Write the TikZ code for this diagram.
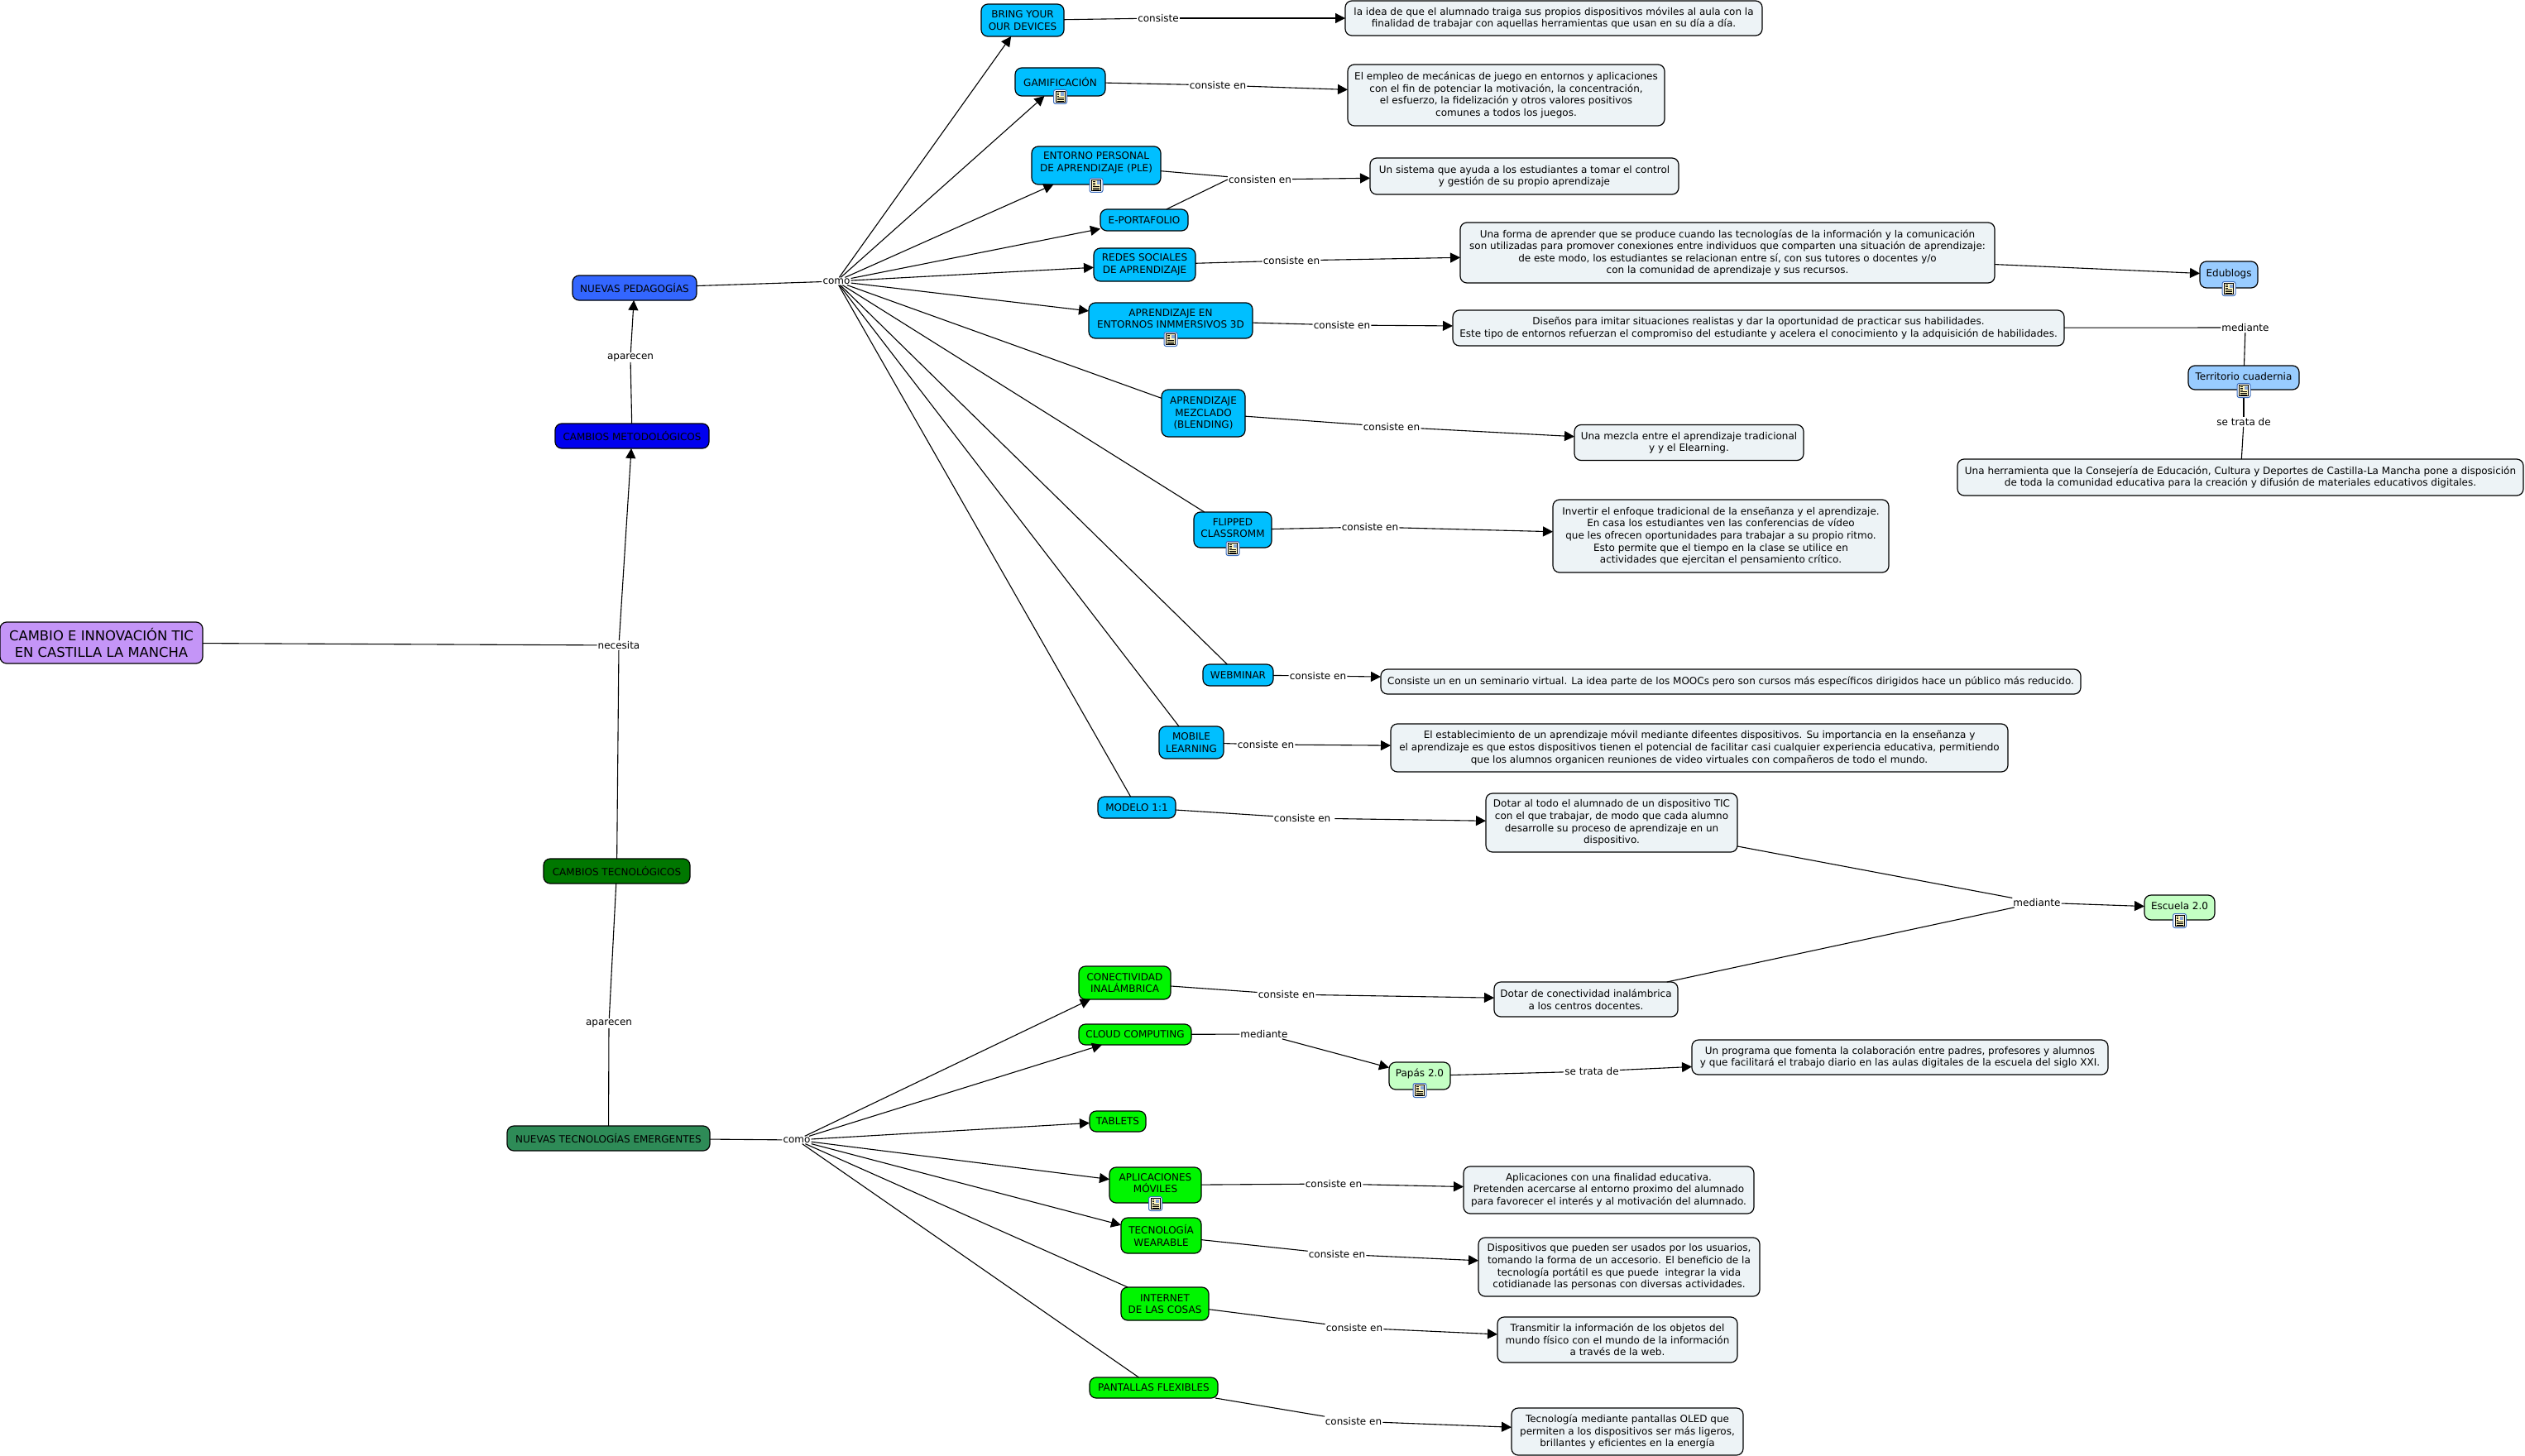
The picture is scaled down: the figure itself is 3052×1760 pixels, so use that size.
\documentclass[tikz,border=0pt]{standalone}
\usepackage{fontspec}
\setmainfont{DejaVu Sans}
\usetikzlibrary{arrows.meta}
\definecolor{cblue}{RGB}{0,191,255}
\definecolor{cped}{RGB}{51,102,255}
\definecolor{cmet}{RGB}{0,0,238}
\definecolor{ctec}{RGB}{0,119,0}
\definecolor{cnte}{RGB}{46,139,87}
\definecolor{clime}{RGB}{0,245,0}
\definecolor{cmain}{RGB}{196,149,247}
\definecolor{ctxt}{RGB}{237,243,246}
\definecolor{csky}{RGB}{153,204,255}
\definecolor{cmint}{RGB}{196,255,196}
\definecolor{iconblue}{RGB}{60,110,190}
\definecolor{iconpage}{RGB}{252,244,190}
\newcommand{\lowstrut}[1]{\rule[-#1]{0pt}{1pt}}
\tikzset{
  every node/.style={font=\fontsize{6}{7.3}\selectfont,align=center,text=black},
  box/.style={draw=black,line width=.6pt,rounded corners=4pt,inner sep=0pt,outer sep=0pt},
  sz/.style 2 args={minimum width=#1*0.5pt,minimum height=#2*0.5pt},
  bluebox/.style={box,fill=cblue},
  limebox/.style={box,fill=clime},
  skybox/.style={box,fill=csky},
  mintbox/.style={box,fill=cmint},
  textbox/.style={box,fill=ctxt},
  lbl/.style={fill=white,inner sep=.6pt,outer sep=0pt},
  conn/.style={line width=.55pt,draw=black},
  arr/.style={conn,-{Triangle[length=6pt,width=6pt]}},
  docicon/.pic={
    \fill[white,draw=iconblue,line width=.5pt,rounded corners=1.2pt] (-8,-8.5) rectangle (8,8.5);
    \fill[iconpage,draw=black,line width=.3pt] (-5.5,-6.5) rectangle (5.5,6.5);
    \fill[iconblue!60!white] (0.5,-5.5) rectangle (4.5,-0.8);
    \foreach \yy in {-4.5,-2.5,-0.5}{\draw[black,line width=.3pt] (-4,\yy) -- (-1.5,\yy);}
    \foreach \yy in {1.5,3.2,4.9}{\draw[black,line width=.3pt] (-4,\yy) -- (4,\yy);}
  }
}
\begin{document}
\begin{tikzpicture}[x=0.5pt,y=-0.5pt]
\useasboundingbox (0,0) rectangle (3052,1760);
\fill[white] (0,0) rectangle (3052,1760);
% main column
\node[box,fill=cmain,sz={245}{50},font=\fontsize{8.2}{9.6}\selectfont] (cambio) at (122.5,777) {CAMBIO E INNOVACIÓN TIC\\EN CASTILLA LA MANCHA};
\node[box,fill=cped,sz={150}{30}] (nped) at (767,348) {NUEVAS PEDAGOGÍAS};
\node[box,fill=cmet,sz={186}{30}] (cmetod) at (764,527) {CAMBIOS METODOLÓGICOS};
\node[box,fill=ctec,sz={177}{30}] (ctecn) at (745.5,1053) {CAMBIOS TECNOLÓGICOS};
\node[box,fill=cnte,sz={245}{30}] (ntec) at (735.5,1376) {NUEVAS TECNOLOGÍAS EMERGENTES};
% blue concepts
\node[bluebox,sz={100}{39}] (bring) at (1236,24.5) {BRING YOUR\\OUR DEVICES};
\node[bluebox,sz={109}{34}] (gamif) at (1281.5,99) {GAMIFICACIÓN};
\node[bluebox,sz={156}{46}] (ple) at (1325,200) {ENTORNO PERSONAL\\DE APRENDIZAJE (PLE)\lowstrut{4.4pt}};
\node[bluebox,sz={106}{26}] (eport) at (1383,266) {E-PORTAFOLIO};
\node[bluebox,sz={123}{40}] (redes) at (1383.5,320) {REDES SOCIALES\\DE APRENDIZAJE};
\node[bluebox,sz={198}{43}] (inm) at (1415,387.5) {APRENDIZAJE EN\\ENTORNOS INMMERSIVOS 3D\lowstrut{2.5pt}};
\node[bluebox,sz={101}{57}] (blend) at (1454.5,499.5) {APRENDIZAJE\\MEZCLADO\\(BLENDING)};
\node[bluebox,sz={94}{43}] (flip) at (1490,640.5) {FLIPPED\\CLASSROMM\lowstrut{2.5pt}};
\node[bluebox,sz={85}{26}] (webi) at (1496.5,816) {WEBMINAR};
\node[bluebox,sz={78}{39}] (mobi) at (1440,897.5) {MOBILE\\LEARNING};
\node[bluebox,sz={94}{26}] (mode) at (1374,976) {MODELO 1:1};
% green concepts
\node[limebox,sz={111}{40}] (conec) at (1359.5,1188) {CONECTIVIDAD\\INALÁMBRICA};
\node[limebox,sz={136}{25}] (cloud) at (1372,1250.5) {CLOUD COMPUTING};
\node[limebox,sz={68}{25}] (tabl) at (1351,1355.5) {TABLETS};
\node[limebox,sz={111}{43}] (apli) at (1396.5,1432.5) {APLICACIONES\\MÓVILES\lowstrut{2.5pt}};
\node[limebox,sz={97}{43}] (wear) at (1403.5,1493.5) {TECNOLOGÍA\\WEARABLE};
\node[limebox,sz={106}{40}] (inter) at (1408,1576) {INTERNET\\DE LAS COSAS};
\node[limebox,sz={155}{25}] (pant) at (1394.5,1677.5) {PANTALLAS FLEXIBLES};
% resource nodes
\node[skybox,sz={70}{32}] (edub) at (2694,332) {Edublogs\lowstrut{2.5pt}};
\node[skybox,sz={134}{29}] (terr) at (2712,456.5) {Territorio cuadernia\lowstrut{2pt}};
\node[mintbox,sz={85}{30}] (escu) at (2634.5,1097) {Escuela 2.0\lowstrut{2pt}};
\node[mintbox,sz={74}{33}] (papas) at (1716,1300.5) {Papás 2.0\lowstrut{3.5pt}};
% text boxes
\node[textbox,sz={504}{42}] (tbring) at (1878,22) {la idea de que el alumnado traiga sus propios dispositivos móviles al aula con la\\finalidad de trabajar con aquellas herramientas que usan en su día a día.};
\node[textbox,sz={383}{74}] (tgamif) at (1820.5,115) {El empleo de mecánicas de juego en entornos y aplicaciones\\con el fin de potenciar la motivación, la concentración,\\el esfuerzo, la fidelización y otros valores positivos\\comunes a todos los juegos.};
\node[textbox,sz={373}{44}] (tple) at (1842.5,213) {Un sistema que ayuda a los estudiantes a tomar el control\\y gestión de su propio aprendizaje};
\node[textbox,sz={646}{73}] (tredes) at (2088,305.5) {Una forma de aprender que se produce cuando las tecnologías de la información y la comunicación\\son utilizadas para promover conexiones entre individuos que comparten una situación de aprendizaje:\\de este modo, los estudiantes se relacionan entre sí, con sus tutores o docentes y/o\\con la comunidad de aprendizaje y sus recursos.};
\node[textbox,sz={739}{43}] (tinm) at (2125.5,396.5) {Diseños para imitar situaciones realistas y dar la oportunidad de practicar sus habilidades.\\Este tipo de entornos refuerzan el compromiso del estudiante y acelera el conocimiento y la adquisición de habilidades.};
\node[textbox,sz={277}{43}] (tblend) at (2041.5,535) {Una mezcla entre el aprendizaje tradicional\\y y el Elearning.};
\node[textbox,sz={406}{88}] (tflip) at (2080,648) {Invertir el enfoque tradicional de la enseñanza y el aprendizaje.\\En casa los estudiantes ven las conferencias de vídeo\\que les ofrecen oportunidades para trabajar a su propio ritmo.\\Esto permite que el tiempo en la clase se utilice en\\actividades que ejercitan el pensamiento crítico.};
\node[textbox,sz={846}{30}] (twebi) at (2092,824) {Consiste un en un seminario virtual. La idea parte de los MOOCs pero son cursos más específicos dirigidos hace un público más reducido.};
\node[textbox,sz={746}{58}] (tmobi) at (2054,904) {El establecimiento de un aprendizaje móvil mediante difeentes dispositivos. Su importancia en la enseñanza y\\el aprendizaje es que estos dispositivos tienen el potencial de facilitar casi cualquier experiencia educativa, permitiendo\\que los alumnos organicen reuniones de video virtuales con compañeros de todo el mundo.};
\node[textbox,sz={304}{71}] (tmode) at (1948,994.5) {Dotar al todo el alumnado de un dispositivo TIC\\con el que trabajar, de modo que cada alumno\\desarrolle su proceso de aprendizaje en un\\dispositivo.};
\node[textbox,sz={222}{42}] (tconec) at (1917,1208) {Dotar de conectividad inalámbrica\\a los centros docentes.};
\node[textbox,sz={503}{42}] (tpapas) at (2296.5,1278) {Un programa que fomenta la colaboración entre padres, profesores y alumnos\\y que facilitará el trabajo diario en las aulas digitales de la escuela del siglo XXI.};
\node[textbox,sz={351}{57}] (tapli) at (1944.5,1438.5) {Aplicaciones con una finalidad educativa.\\Pretenden acercarse al entorno proximo del alumnado\\para favorecer el interés y al motivación del alumnado.};
\node[textbox,sz={340}{71}] (twear) at (1957,1531.5) {Dispositivos que pueden ser usados por los usuarios,\\tomando la forma de un accesorio. El beneficio de la\\tecnología portátil es que puede\ \ integrar la vida\\cotidianade las personas con diversas actividades.};
\node[textbox,sz={290}{55}] (tinter) at (1955,1619.5) {Transmitir la información de los objetos del\\mundo físico con el mundo de la información\\a través de la web.};
\node[textbox,sz={280}{57}] (tpant) at (1967,1730.5) {Tecnología mediante pantallas OLED que\\permiten a los dispositivos ser más ligeros,\\brillantes y eficientes en la energía};
\node[textbox,sz={684}{44}] (tterr) at (2708,577) {Una herramienta que la Consejería de Educación, Cultura y Deportes de Castilla-La Mancha pone a disposición\\de toda la comunidad educativa para la creación y difusión de materiales educativos digitales.};
% linking phrases
\node[lbl] (lnec) at (748,780) {necesita};
\node[lbl] (lap1) at (762,432) {aparecen};
\node[lbl] (lap2) at (736,1237) {aparecen};
\node[lbl] (como1) at (1011,340) {como};
\node[lbl] (como2) at (963,1378) {como};
\node[lbl] (l1) at (1400,22) {consiste};
\node[lbl] (l2) at (1472,103) {consiste en};
\node[lbl] (l3) at (1523,217) {consisten en};
\node[lbl] (l5) at (1561,315) {consiste en};
\node[lbl] (l6) at (1622,393) {consiste en};
\node[lbl] (l7) at (1682,516) {consiste en};
\node[lbl] (l8) at (1656,637) {consiste en};
\node[lbl] (l9) at (1593,817) {consiste en};
\node[lbl] (l10) at (1530,900) {consiste en};
\node[lbl] (l11) at (1576,989) {consiste en\ };
\node[lbl] (l12) at (1555,1202) {consiste en};
\node[lbl] (l13) at (1528,1250) {mediante};
\node[lbl] (l14) at (1924,1295) {se trata de};
\node[lbl] (l15) at (1612,1431) {consiste en};
\node[lbl] (l16) at (1616,1516) {consiste en};
\node[lbl] (l17) at (1637,1605) {consiste en};
\node[lbl] (l18) at (1636,1718) {consiste en};
\node[lbl] (lmed1) at (2714,396) {mediante};
\node[lbl] (lset) at (2712,510) {se trata de};
\node[lbl] (lmed2) at (2462,1091) {mediante};
% connectors
\draw[conn] (cambio) -- (lnec);
\draw[arr] (lnec) -- (cmetod);
\draw[conn] (lnec) -- (ctecn);
\draw[conn] (cmetod) -- (lap1);
\draw[arr] (lap1) -- (nped);
\draw[conn] (ctecn) -- (lap2);
\draw[conn] (lap2) -- (ntec);
\draw[conn] (nped) -- (como1);
\foreach \tgt in {bring,gamif,ple,eport,redes,inm}{\draw[arr] (como1) -- (\tgt);}
\foreach \tgt in {blend,flip,webi,mobi,mode}{\draw[conn] (como1) -- (\tgt);}
\draw[conn] (ntec) -- (como2);
\foreach \tgt in {conec,cloud,tabl,apli,wear}{\draw[arr] (como2) -- (\tgt);}
\foreach \tgt in {inter,pant}{\draw[conn] (como2) -- (\tgt);}
\draw[conn] (bring) -- (l1);
\draw[arr] (l1) -- (tbring);
\draw[conn] (gamif) -- (l2);
\draw[arr] (l2) -- (tgamif);
\draw[conn] (ple) -- (l3);
\draw[conn] (eport) -- (l3.west);
\draw[arr] (l3) -- (tple);
\draw[conn] (redes) -- (l5);
\draw[arr] (l5) -- (tredes);
\draw[arr] (tredes) -- (edub);
\draw[conn] (inm) -- (l6);
\draw[arr] (l6) -- (tinm);
\draw[conn] (tinm) -- (lmed1);
\draw[conn] (lmed1) -- (terr);
\draw[conn] (terr) -- (lset);
\draw[conn] (lset) -- (tterr);
\draw[conn] (blend) -- (l7);
\draw[arr] (l7) -- (tblend);
\draw[conn] (flip) -- (l8);
\draw[arr] (l8) -- (tflip);
\draw[conn] (webi) -- (l9);
\draw[arr] (l9) -- (twebi);
\draw[conn] (mobi) -- (l10);
\draw[arr] (l10) -- (tmobi);
\draw[conn] (mode) -- (l11);
\draw[arr] (l11) -- (tmode);
\draw[conn] (tmode) -- (lmed2);
\draw[conn] (tconec) -- (lmed2);
\draw[arr] (lmed2) -- (escu);
\draw[conn] (conec) -- (l12);
\draw[arr] (l12) -- (tconec);
\draw[conn] (cloud) -- (l13);
\draw[arr] (l13) -- (papas);
\draw[conn] (papas) -- (l14);
\draw[arr] (l14) -- (tpapas);
\draw[conn] (apli) -- (l15);
\draw[arr] (l15) -- (tapli);
\draw[conn] (wear) -- (l16);
\draw[arr] (l16) -- (twear);
\draw[conn] (inter) -- (l17);
\draw[arr] (l17) -- (tinter);
\draw[conn] (pant) -- (l18);
\draw[arr] (l18) -- (tpant);
% resource icons
\foreach \host in {gamif,ple,inm,flip,edub,terr,escu,papas,apli}{\pic at ([yshift=-.5pt]\host.south) {docicon};}
\end{tikzpicture}
\end{document}
